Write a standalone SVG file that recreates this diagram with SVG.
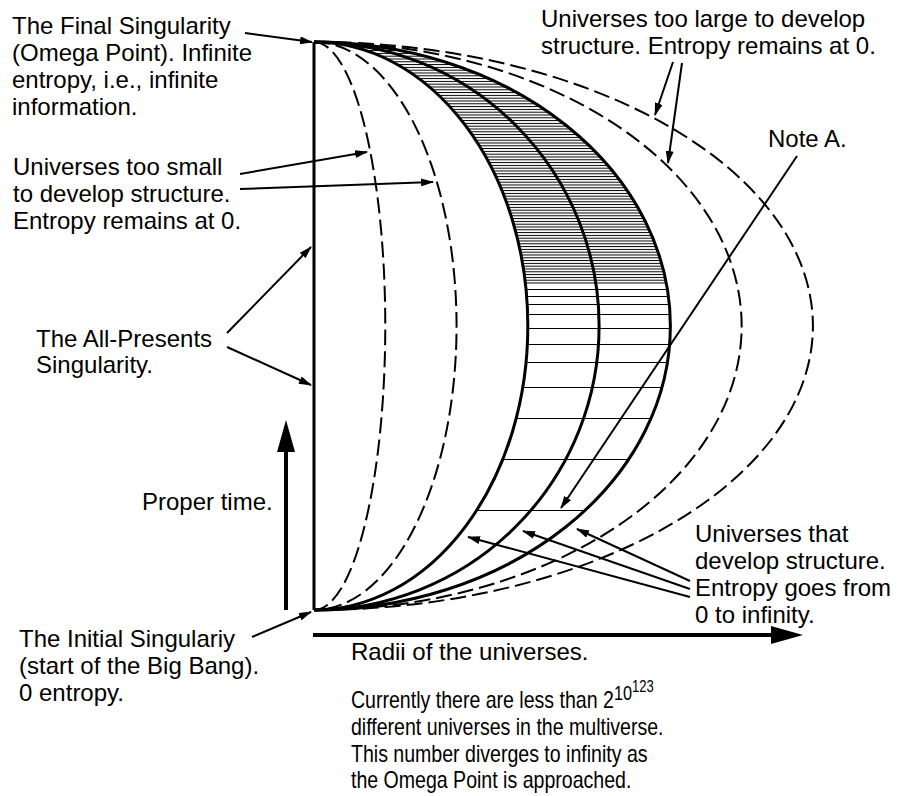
<svg xmlns="http://www.w3.org/2000/svg" width="904" height="796" viewBox="0 0 904 796">
<style>
text{font-family:"Liberation Sans",Arial,Helvetica,sans-serif;font-size:24px;fill:#000}
.solid{fill:none;stroke:#000;stroke-width:3}
.dash{fill:none;stroke:#000;stroke-width:2;stroke-dasharray:16 6}
.ann{fill:none;stroke:#000;stroke-width:2;marker-end:url(#ah)}
.big{fill:none;stroke:#000;stroke-width:4;marker-end:url(#bh)}
.hl{fill:none;stroke:#000;stroke-width:1}
</style>
<defs>
<marker id="ah" markerUnits="userSpaceOnUse" viewBox="0 0 13 8" markerWidth="13" markerHeight="8" refX="12" refY="4" orient="auto"><path d="M0,0L13,4L0,8z"/></marker>
<marker id="bh" markerUnits="userSpaceOnUse" viewBox="0 0 32 18" markerWidth="32" markerHeight="18" refX="4" refY="9" orient="auto"><path d="M0,0L32,9L0,18z"/></marker>
<pattern id="hatch" patternUnits="userSpaceOnUse" x="0" y="44.5" width="10" height="2.8"><rect width="10" height="1"/></pattern>
<clipPath id="band"><path clip-rule="evenodd" d="M314,42A356.5,284 0 0 1 314,610ZM314,42A213.9,284 0 0 1 314,610Z"/></clipPath>
</defs>

<g id="hatching" clip-path="url(#band)">
<rect x="314" y="43" width="360" height="241" fill="url(#hatch)"/>
<path class="hl" d="M314,289.5H680M314,296.5H680M314,304.5H680M314,314.5H680M314,328.5H680M314,344.5H680M314,362.5H680M314,387.5H680M314,418.5H680M314,459.5H680M314,510.5H680"/>
</g>

<g id="universes">
<path id="all-presents-line" class="solid" d="M314,42V610"/>
<path class="dash" d="M314,42A71.3,284 0 0 1 314,610"/>
<path class="dash" d="M314,42A142.6,284 0 0 1 314,610"/>
<path class="solid" d="M314,42A213.9,284 0 0 1 314,610"/>
<path class="solid" d="M314,42A285.2,284 0 0 1 314,610"/>
<path class="solid" d="M314,42A356.5,284 0 0 1 314,610"/>
<path class="dash" d="M314,42A427.8,284 0 0 1 314,610"/>
<path class="dash" d="M314,42A499.1,284 0 0 1 314,610"/>
</g>

<g id="final-singularity">
<text x="12" y="34">The Final Singularity</text>
<text x="12" y="61">(Omega Point). Infinite</text>
<text x="12" y="88">entropy, i.e., infinite</text>
<text x="12" y="115">information.</text>
</g>

<g id="too-small">
<text x="13" y="175">Universes too small</text>
<text x="13" y="202">to develop structure.</text>
<text x="13" y="229">Entropy remains at 0.</text>
</g>

<g id="all-presents">
<text x="36" y="347">The All-Presents</text>
<text x="36" y="373">Singularity.</text>
</g>

<g id="proper-time">
<text x="142" y="510">Proper time.</text>
</g>

<g id="initial-singularity">
<text x="19" y="647">The Initial Singulariy</text>
<text x="19" y="674">(start of the Big Bang).</text>
<text x="19" y="701">0 entropy.</text>
</g>

<g id="radii">
<text x="351" y="660">Radii of the universes.</text>
</g>

<g id="multiverse-note" transform="translate(351,0) scale(0.815,1)">
<text x="0" y="708">Currently there are less than 2<tspan font-size="20" dy="-8">10</tspan><tspan font-size="16" dy="-7.5">123</tspan></text>
<text x="0" y="735">different universes in the multiverse.</text>
<text x="0" y="762">This number diverges to infinity as</text>
<text x="0" y="788">the Omega Point is approached.</text>
</g>

<g id="too-large">
<text x="541" y="27">Universes too large to develop</text>
<text x="541" y="54">structure. Entropy remains at 0.</text>
</g>

<g id="note-a">
<text x="768" y="147">Note A.</text>
</g>

<g id="develop-structure">
<text x="695" y="542">Universes that</text>
<text x="695" y="569">develop structure.</text>
<text x="695" y="596">Entropy goes from</text>
<text x="695" y="623">0 to infinity.</text>
</g>

<g id="connectors">
<path class="big" d="M286,610V448"/>
<path class="big" d="M313,635H775"/>
<path class="ann" d="M245,33L312,42"/>
<path class="ann" d="M240,174L367,152"/>
<path class="ann" d="M240,189L433,182"/>
<path class="ann" d="M227,333L311,247"/>
<path class="ann" d="M227,347L311,385"/>
<path class="ann" d="M252,637L311,612"/>
<path class="ann" d="M673,62L655,115"/>
<path class="ann" d="M682,63L668,163"/>
<path class="ann" d="M797,156L561,508"/>
<path class="ann" d="M690,581L577,529"/>
<path class="ann" d="M690,589L523,531"/>
<path class="ann" d="M690,597L468,537"/>
</g>
</svg>
